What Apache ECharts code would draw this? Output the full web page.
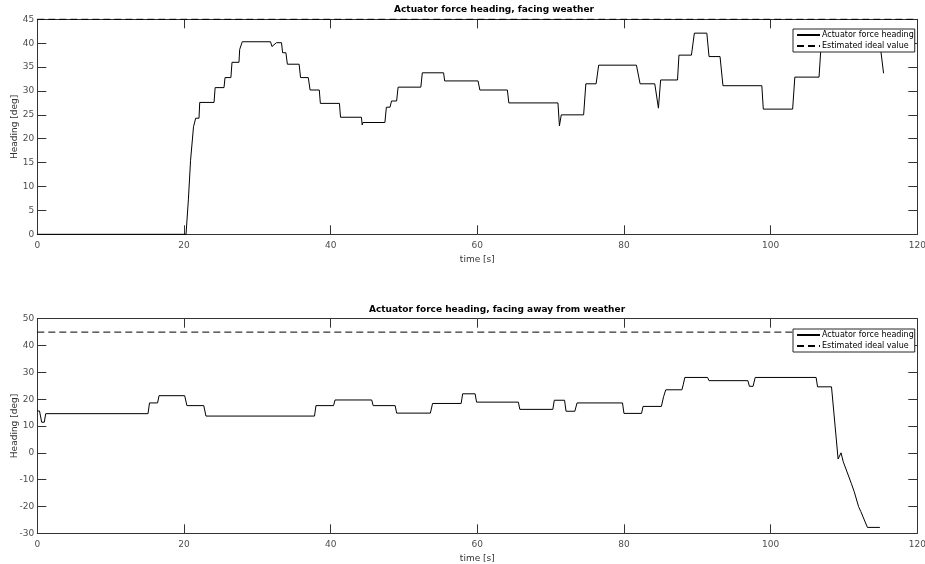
<!DOCTYPE html>
<html>
<head>
<meta charset="utf-8">
<script src="https://cdn.jsdelivr.net/npm/echarts@6/dist/echarts.min.js"></script>
<style>html,body{margin:0;padding:0;background:#fff;}#c{width:925px;height:564px;}</style>
</head>
<body>
<div id="c"></div>
<script>
// ---- data ----
const topTitle = 'Actuator force heading, facing weather';
const bottomTitle = 'Actuator force heading, facing away from weather';
const seriesNames = ['Actuator force heading', 'Estimated ideal value'];

const topTime = [0, 20.28, 20.6, 20.9, 21.3, 21.6, 22.05, 22.15, 24.1, 24.25, 25.46, 25.6, 26.4,
  26.55, 27.5, 27.6, 27.75, 27.95, 31.8, 32.0, 32.6, 33.3, 33.45, 33.9, 34.1, 35.7, 35.9, 36.95,
  37.2, 38.45, 38.6, 41.2, 41.35, 44.2, 44.3, 44.4, 47.4, 47.6, 48.1, 48.3, 49.0, 49.2, 52.3, 52.5,
  55.4, 55.55, 60.1, 60.35, 64.1, 64.3, 71.0, 71.2, 71.45, 74.5, 74.8, 76.2, 76.55, 81.7, 82.2,
  84.2, 84.7, 85.0, 87.3, 87.5, 89.2, 89.6, 91.3, 91.6, 93.1, 93.5, 98.8, 99.0, 103.0, 103.3,
  106.6, 106.9, 114.9, 115.4];
const topHeading = [0, 0, 7.2, 15.5, 22.5, 24.3, 24.3, 27.6, 27.6, 30.7, 30.7, 32.8, 32.8,
  36.0, 36.0, 38.7, 38.7, 40.3, 40.3, 39.3, 40.1, 40.1, 38.0, 38.0, 35.6, 35.6, 32.8, 32.8,
  30.2, 30.2, 27.4, 27.4, 24.5, 24.5, 22.9, 23.4, 23.4, 26.6, 26.6, 27.9, 27.9, 30.8, 30.8, 33.8,
  33.8, 32.1, 32.1, 30.2, 30.2, 27.5, 27.5, 22.7, 25.0, 25.0, 31.5, 31.5, 35.4, 35.4, 31.5,
  31.5, 26.4, 32.3, 32.3, 37.5, 37.5, 42.1, 42.1, 37.2, 37.2, 31.1, 31.1, 26.2, 26.2, 32.9,
  32.9, 40.0, 40.0, 33.7];

const bottomTime = [0, 0.3, 0.6, 0.95, 1.15, 15.1, 15.3, 16.4, 16.6, 20.1, 20.4, 22.7, 23.0,
  37.8, 38.0, 40.4, 40.6, 45.6, 45.8, 48.8, 49.0, 53.6, 53.9, 57.8, 58.0, 59.7, 59.9, 65.6, 65.8,
  70.3, 70.5, 71.9, 72.1, 73.3, 73.6, 79.8, 80.0, 82.4, 82.6, 85.1, 85.4, 85.7, 87.9, 88.1, 88.3,
  91.4, 91.6, 96.9, 97.1, 97.6, 97.9, 106.2, 106.4, 108.3, 109.2, 109.6, 109.9, 111.0, 111.4,
  112.0, 112.3, 113.2, 114.9];
const bottomHeading = [15.6, 15.6, 11.4, 11.4, 14.6, 14.6, 18.6, 18.6, 21.3, 21.3, 17.6, 17.6, 13.7,
  13.7, 17.6, 17.6, 19.7, 19.7, 17.6, 17.6, 14.8, 14.8, 18.4, 18.4, 22.0, 22.0, 18.9, 18.9, 16.2,
  16.2, 19.6, 19.6, 15.5, 15.5, 18.6, 18.6, 14.7, 14.7, 17.3, 17.3, 20.9, 23.5, 23.5, 25.6, 28.1,
  28.1, 26.9, 26.9, 24.8, 24.8, 28.1, 28.1, 24.6, 24.6, -2.3, 0.0, -3.3, -11.4, -14.5,
  -20.1, -21.9, -27.8, -27.8];

const idealTime = [0, 120];
const idealHeading = [45, 45];

const xTicks = {min: 0, max: 120, interval: 20};
const topYTicks = {min: 0, max: 45, interval: 5};
const bottomYTicks = {min: -30, max: 50, interval: 10};

// ---- build ----
const zip = (a, b) => a.map((v, i) => [v, b[i]]);
const FONT = 'DejaVu Sans';
const AX = '#333333';
const LBL = '#4d4d4d';

function xAx(grid, bottom) {
  return {
    type: 'value', gridIndex: grid, position: bottom ? 'bottom' : 'top',
    min: xTicks.min, max: xTicks.max, interval: xTicks.interval,
    name: bottom ? 'time [s]' : '', nameLocation: 'middle', nameGap: 21, nameMoveOverlap: false,
    nameTextStyle: {fontFamily: FONT, fontSize: 9, color: '#333'},
    axisLine: {show: true, onZero: false, lineStyle: {color: AX, width: 1}},
    axisTick: {show: true, inside: true, length: 9, lineStyle: {color: AX}},
    axisLabel: {show: bottom, margin: 7, fontFamily: FONT, fontSize: 9, color: LBL,
                showMinLabel: true, showMaxLabel: true},
    splitLine: {show: false}
  };
}
function yAx(grid, left, t) {
  return {
    type: 'value', gridIndex: grid, position: left ? 'left' : 'right',
    min: t.min, max: t.max, interval: t.interval,
    name: left ? 'Heading [deg]' : '', nameLocation: 'middle', nameGap: 18, nameMoveOverlap: false,
    nameTextStyle: {fontFamily: FONT, fontSize: 9, color: '#333'},
    axisLine: {show: true, onZero: false, lineStyle: {color: AX, width: 1}},
    axisTick: {show: true, inside: true, length: 9, lineStyle: {color: AX}},
    axisLabel: {show: left, margin: 3, fontFamily: FONT, fontSize: 9, color: LBL},
    splitLine: {show: false}
  };
}
function legend(top) {
  return {
    left: 793, top: top, orient: 'vertical',
    data: seriesNames,
    backgroundColor: '#fff', borderColor: '#262626', borderWidth: 1,
    padding: [2, 1, 2, 3], itemWidth: 23, itemHeight: 8, itemGap: 3,
    itemStyle: {opacity: 0, borderWidth: 0},
    textStyle: {fontFamily: FONT, fontSize: 8, color: '#000', padding: [0, 0, 0, -3]},
    selectedMode: false
  };
}
function lineSeries(name, xi, yi, data, dashed) {
  return {
    name: name, type: 'line', xAxisIndex: xi, yAxisIndex: yi, data: data,
    symbol: 'none', showSymbol: false, clip: false, animation: false,
    lineStyle: {color: '#000', width: 1, type: dashed ? [7, 4] : 'solid'},
    itemStyle: {color: '#000'}
  };
}

const chart = echarts.init(document.getElementById('c'), null, {renderer: 'canvas'});
chart.setOption({
  animation: false,
  backgroundColor: '#fff',
  title: [
    {text: topTitle, left: 494, top: 5, textAlign: 'center', padding: 0,
     textStyle: {fontFamily: FONT, fontSize: 9, fontWeight: 'bold', color: '#000'}},
    {text: bottomTitle, left: 497, top: 305, textAlign: 'center', padding: 0,
     textStyle: {fontFamily: FONT, fontSize: 9, fontWeight: 'bold', color: '#000'}}
  ],
  legend: [legend(29), legend(329)],
  grid: [
    {left: 37.3, top: 19.3, width: 880, height: 215, containLabel: false, outerBoundsMode: 'none'},
    {left: 37.3, top: 318.7, width: 880, height: 214.6, containLabel: false, outerBoundsMode: 'none'}
  ],
  xAxis: [xAx(0, true), xAx(0, false), xAx(1, true), xAx(1, false)],
  yAxis: [yAx(0, true, topYTicks), yAx(0, false, topYTicks), yAx(1, true, bottomYTicks), yAx(1, false, bottomYTicks)],
  series: [
    lineSeries(seriesNames[0], 0, 0, zip(topTime, topHeading), false),
    lineSeries(seriesNames[1], 0, 0, zip(idealTime, idealHeading), true),
    lineSeries(seriesNames[0], 2, 2, zip(bottomTime, bottomHeading), false),
    lineSeries(seriesNames[1], 2, 2, zip(idealTime, idealHeading), true)
  ]
});
</script>
</body>
</html>
